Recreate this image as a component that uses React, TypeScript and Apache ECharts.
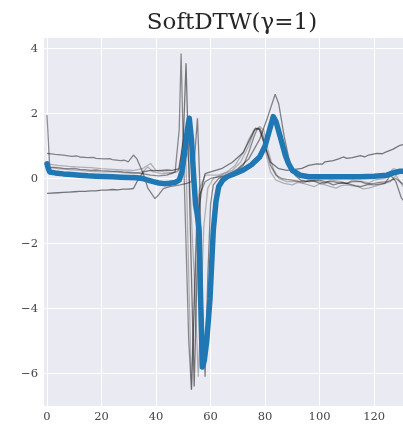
import React, { useEffect, useRef } from "react";
import * as echarts from "echarts";

const TITLE = "SoftDTW(γ=1)";
const X_TICKS = [0, 20, 40, 60, 80, 100, 120];
const Y_TICKS = [-6, -4, -2, 0, 2, 4];

// gray input series: [time index, value]
const traceA: number[][] = [
  [0, 1.95], [1, 0.35], [4, 0.33], [6, 0.31], [8, 0.3], [10, 0.31], [12, 0.28], [14, 0.27], [16, 0.25],
  [18, 0.26], [20, 0.24], [22, 0.23], [24, 0.22], [26, 0.22], [28, 0.2], [30, 0.19], [32, 0.18],
  [35, 0.15], [38, 0.1], [41, 0.08], [44, 0.1], [47, 0.2], [48.5, 1.5], [49.2, 3.84], [50, 1.0],
  [51, -2], [52, -5], [53, -6.5], [54, -4], [55, -1.5], [56, -0.5], [58, -0.1], [60, 0.0], [63, 0.05],
  [66, 0.1], [69, 0.2], [72, 0.4], [74, 0.8], [76, 1.3], [77, 1.5], [78, 1.55], [79, 1.4], [80, 1.0],
  [82, 0.4], [84, 0.1], [86, 0], [88, -0.03], [90, -0.05], [92, -0.08], [95, -0.1], [97, -0.06],
  [100, -0.05], [102, -0.1], [105, -0.1], [107, -0.14], [110, -0.15], [112, -0.1], [115, -0.1],
  [117, -0.16], [120, -0.15], [122, -0.12], [125, -0.1], [128, 0.0], [131, -0.2],
];
const traceB: number[][] = [
  [0, 0.77], [3, 0.74], [6, 0.72], [9, 0.68], [11, 0.69], [12, 0.66], [15, 0.64], [17, 0.65], [18, 0.62],
  [21, 0.6], [23, 0.61], [24, 0.58], [27, 0.55], [28.5, 0.56], [29.8, 0.51], [31.7, 0.72], [33, 0.6],
  [35.3, 0.15], [37, -0.3], [39.6, -0.62], [41, -0.5], [42.7, -0.31], [45, -0.25], [48.8, -0.2],
  [51.3, -0.15], [53, -0.1], [54, 0.5], [55.2, 1.85], [56, 0], [57, -4], [58, -6.1], [59, -3], [60, -0.8],
  [61, -0.2], [63, 0.0], [66, 0.1], [70, 0.3], [74, 0.6], [78, 1.2], [81, 1.9], [83.7, 2.59], [85, 2.3],
  [87, 1.3], [89, 0.5], [91, 0.1], [93, -0.05], [96, -0.1], [98, -0.08], [100, -0.15], [103, -0.12],
  [105, -0.2], [108, -0.13], [110, -0.15], [113, -0.22], [115, -0.25], [118, -0.18], [120, -0.2],
  [124, -0.15], [126, 0.1], [128, -0.1], [130, -0.6], [131, -0.7],
];
const traceC: number[][] = [
  [0, -0.46], [4, -0.44], [6, -0.43], [8, -0.42], [10, -0.41], [12, -0.4], [14, -0.4], [16, -0.38],
  [18, -0.38], [20, -0.36], [22, -0.36], [24, -0.34], [26, -0.35], [28, -0.33], [30, -0.33],
  [31.7, -0.31], [33, -0.1], [35.3, 0.2], [38, 0.25], [40, 0.24], [42, 0.25], [44, 0.26], [46, 0.25],
  [48.5, 0.3], [50, 1.2], [51, 3.54], [52, 0.5], [53, -3], [54, -6.4], [55, -3], [56, -0.8], [57, -0.2],
  [58, 0.15], [60, 0.2], [64, 0.3], [68, 0.5], [72, 0.8], [75, 1.3], [76.5, 1.55], [78, 1.5], [80, 1.0],
  [82, 0.5], [85, 0.3], [88, 0.25], [91, 0.28], [93.5, 0.31], [96, 0.4], [99, 0.45], [101, 0.44],
  [102, 0.51], [105, 0.55], [107, 0.6], [108.7, 0.66], [110, 0.62], [112, 0.64], [115, 0.7], [116.5, 0.66],
  [118, 0.72], [121, 0.77], [123, 0.76], [124, 0.8], [127, 0.9], [129.5, 1.02], [131, 1.05],
];
const traceD: number[][] = [
  [0, 0.45], [4, 0.4], [8, 0.37], [12, 0.35], [16, 0.33], [20, 0.3], [24, 0.28], [28, 0.26], [32, 0.25],
  [35, 0.3], [38, 0.46], [40, 0.25], [43, 0.2], [46, 0.18], [48, 0.2], [49.5, 0.8], [50.5, 1.3], [52, 0.5],
  [54, -3], [55.5, -6.1], [56.5, -4], [57.5, -1.5], [59, -0.3], [61, 0.0], [64, 0.1], [68, 0.25],
  [71, 0.5], [74, 1.0], [76, 1.45], [78, 1.6], [79.5, 1.5], [81, 0.9], [83, 0.3], [85, 0.0], [88, -0.1],
  [92, -0.1], [94, -0.14], [96, -0.05], [100, -0.1], [102, -0.15], [104, -0.05], [108, -0.1],
  [110, -0.16], [112, -0.05], [116, -0.1], [118, -0.14], [120, -0.05], [124, 0.0], [127, 0.3], [131, 0.2],
];
const traceE: number[][] = [
  [0, 0.35], [4, 0.3], [8, 0.27], [12, 0.25], [16, 0.22], [20, 0.2], [24, 0.2], [28, 0.18], [32, 0.15],
  [35, 0.2], [37, 0.35], [39, 0.2], [42, 0.15], [46, 0.15], [49, 0.3], [50, 1.2], [51, 0.5], [52, -3],
  [53, -6.5], [54, -3.5], [55, -1], [56, -0.3], [58, 0.1], [60, 0.1], [63, 0.1], [66, 0.2], [69, 0.4],
  [72, 0.8], [74, 1.2], [76, 1.5], [77.5, 1.55], [79, 1.3], [80.5, 0.7], [82, 0.2], [84, -0.05],
  [87, -0.15], [90, -0.2], [92, -0.12], [94, -0.15], [98, -0.25], [100, -0.17], [102, -0.2], [106, -0.3],
  [108, -0.22], [110, -0.2], [114, -0.25], [116, -0.32], [118, -0.3], [122, -0.2], [126, -0.1],
  [128, 0.1], [131, -0.3],
];
// Soft-DTW barycenter
const barycenter: number[][] = [
  [0, 0.45], [0.5, 0.3], [1, 0.2], [3, 0.17], [6, 0.14], [9, 0.12], [12, 0.1], [15, 0.08], [18, 0.07],
  [21, 0.06], [24, 0.05], [27, 0.04], [30, 0.03], [33, 0.02], [35, 0.0], [37, -0.05], [39, -0.1],
  [41, -0.14], [43, -0.16], [45, -0.15], [47, -0.12], [48.5, -0.05], [49.5, 0.2], [50.5, 0.8],
  [51.5, 1.5], [52.2, 1.85], [53, 1.2], [53.7, 0.2], [54.5, -0.8], [55.2, -1.15], [55.8, -1.6],
  [56.3, -3.5], [57, -5.8], [57.7, -5.6], [58.6, -5.0], [59.8, -3.7], [61, -1.6], [62, -0.7],
  [63, -0.25], [64.5, -0.05], [66, 0.05], [69, 0.15], [72, 0.26], [75, 0.42], [78, 0.66], [80, 1.0],
  [81.5, 1.45], [83, 1.9], [84, 1.75], [85, 1.45], [86, 1.15], [87.5, 0.7], [88.6, 0.46], [90, 0.25],
  [92.8, 0.1], [96, 0.05], [100, 0.05], [105, 0.05], [110, 0.05], [115, 0.05], [120, 0.07],
  [124.7, 0.1], [127, 0.17], [129.5, 0.22], [131, 0.22],
];

const GRAY = [
  { data: traceA, opacity: 0.42 },
  { data: traceB, opacity: 0.45 },
  { data: traceC, opacity: 0.5 },
  { data: traceD, opacity: 0.25 },
  { data: traceE, opacity: 0.25 },
];

const fmt = (v: number) => String(v).replace("-", "\u2212");

export default function App() {
  const ref = useRef<HTMLDivElement>(null);
  useEffect(() => {
    const chart = echarts.init(ref.current!, null, { renderer: "svg" });
    const labelFont = { fontFamily: "DejaVu Serif", fontSize: 11.5, color: "#444" };
    chart.setOption({
      animation: false,
      grid: {
        left: 44, right: 0, top: 38, bottom: 20,
        show: true, backgroundColor: "#EAEAF2", borderWidth: 0,
      },
      graphic: [
        {
          type: "text", x: 232, y: 21,
          style: {
            text: TITLE, fontFamily: "DejaVu Serif", fontSize: 23, fill: "#262626",
            align: "center", verticalAlign: "middle",
          },
        },
      ],
      xAxis: {
        type: "value", min: -1.1, max: 130.6,
        axisLine: { show: false },
        axisTick: { show: false, customValues: X_TICKS },
        axisLabel: { ...labelFont, margin: 4, customValues: X_TICKS, formatter: fmt },
        splitLine: { show: true, lineStyle: { color: "#fff", width: 1 } },
      },
      yAxis: {
        type: "value", min: -7.0, max: 4.32,
        axisLine: { show: false },
        axisTick: { show: false, customValues: Y_TICKS },
        axisLabel: { ...labelFont, margin: 6, customValues: Y_TICKS, formatter: fmt },
        splitLine: { show: true, lineStyle: { color: "#fff", width: 1 } },
      },
      series: [
        ...GRAY.map((g) => ({
          type: "line", data: g.data, showSymbol: false, symbol: "none", silent: true,
          lineStyle: { color: "#000", width: 1.3, opacity: g.opacity },
          z: 2,
        })),
        {
          type: "line", data: barycenter, showSymbol: false, symbol: "none", silent: true,
          lineStyle: { color: "#1f77b4", width: 5.5, cap: "round", join: "round" },
          z: 3,
        },
      ],
    });
    return () => chart.dispose();
  }, []);
  return <div ref={ref} style={{ position: "fixed", left: 0, top: 0, width: 403, height: 426 }} />;
}
